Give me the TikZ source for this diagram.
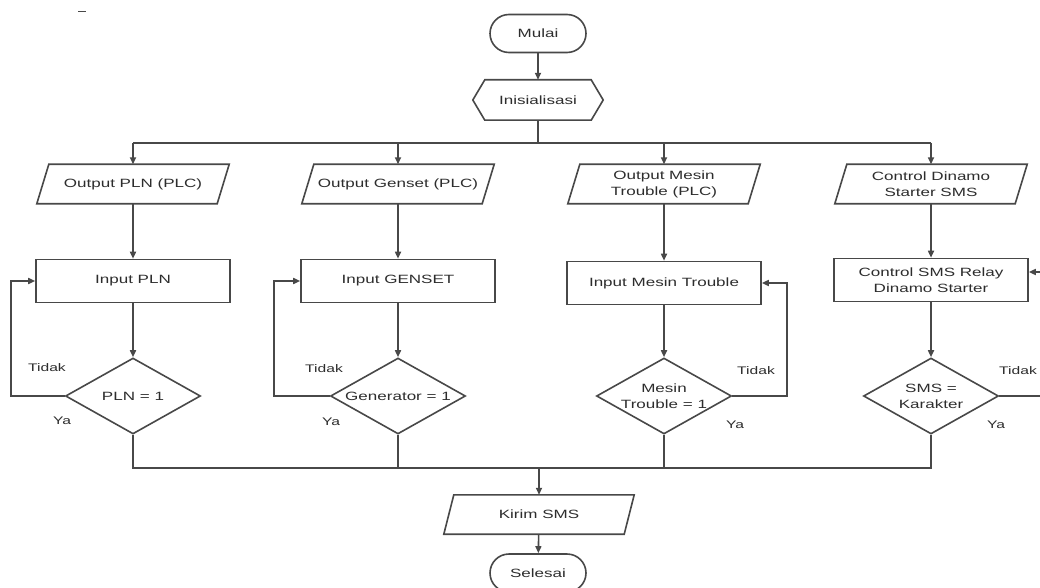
\documentclass[tikz,border=0pt]{standalone}
\usepackage{fontspec}
\setmainfont{Liberation Sans}[FakeStretch=1.42]
\usetikzlibrary{arrows.meta,shapes.geometric,calc}
\definecolor{ln}{RGB}{72,72,72}
\definecolor{tx}{RGB}{45,45,45}
\newcommand\slantbox[2]{\draw[line] ([xshift=#2]#1.north west) -- ([xshift=#2]#1.north east) -- ([xshift=-#2]#1.south east) -- ([xshift=-#2]#1.south west) -- cycle;}
\newcommand\hexbox[2]{\draw[line] (#1.west) -- ([xshift=#2]#1.north west) -- ([xshift=-#2]#1.north east) -- (#1.east) -- ([xshift=-#2]#1.south east) -- ([xshift=#2]#1.south west) -- cycle;}
\begin{document}
\begin{tikzpicture}[x=1pt,y=-1pt, font=\fontsize{12}{16}\selectfont, text=tx,
 line/.style={draw=ln, line width=1.6pt},
 arr/.style={line, -{Triangle[length=7pt,width=6pt]}},
 term/.style={line, rounded corners=19pt, minimum width=96pt, minimum height=38pt, inner sep=0pt},
 box/.style={line, minimum width=194pt, minimum height=43pt, align=center, inner sep=0pt},
 io/.style={minimum width=180pt, minimum height=39pt, align=center, inner sep=0pt},
 prep/.style={minimum width=130pt, minimum height=40pt, inner sep=0pt},
 dec/.style={line, diamond, minimum width=135pt, minimum height=76pt, inner sep=0pt},
 dtext/.style={align=center, inner sep=0pt},
 lbl/.style={font=\fontsize{11}{13}\selectfont, inner sep=0pt}]
\useasboundingbox (0,0) rectangle (1040,588);
\fill[white] (0,0) rectangle (1040,588);
\draw[line, line width=1pt] (78,12) -- (86,12);

% top
\node[term] (mulai) at (538,33.5) {Mulai};
\node[prep] (init) at (538,100) {Inisialisasi};
\hexbox{init}{12pt}
\coordinate (tb) at (538,143);

% output parallelograms
\node[io] (p1) at (133,184) {Output PLN (PLC)};
\node[io] (p2) at (398,184) {Output Genset (PLC)};
\node[io] (p3) at (664,184) {Output Mesin\\Trouble (PLC)};
\node[io] (p4) at (931,184) {Control Dinamo\\Starter SMS};
\slantbox{p1}{6pt}
\slantbox{p2}{6pt}
\slantbox{p3}{6pt}
\slantbox{p4}{6pt}

% process boxes
\node[box] (r1) at (133,281) {Input PLN};
\node[box] (r2) at (398,281) {Input GENSET};
\node[box] (r3) at (664,283) {Input Mesin Trouble};
\node[box] (r4) at (931,280) {Control SMS Relay\\Dinamo Starter};

% decisions
\node[dec] (d1) at (133,396) {};
\node[dec] (d2) at (398,396) {};
\node[dec] (d3) at (664,396) {};
\node[dec] (d4) at (931,396) {};
\node[dtext] (d1t) at (d1) {PLN = 1};
\node[dtext] (d2t) at (d2) {Generator = 1};
\node[dtext] (d3t) at (d3) {Mesin\\Trouble = 1};
\node[dtext] (d4t) at (d4) {SMS =\\Karakter};

% labels
\node[lbl] (t1) at (47,368) {Tidak};
\node[lbl] (y1) at (62,421) {Ya};
\node[lbl] (t2) at (324,369) {Tidak};
\node[lbl] (y2) at (331,422) {Ya};
\node[lbl] (t3) at (756,371) {Tidak};
\node[lbl] (y3) at (735,425) {Ya};
\node[lbl] (t4) at (1018,371) {Tidak};
\node[lbl] (y4) at (996,425) {Ya};

% bottom
\coordinate (bb) at (539,468);
\node[io] (kirim) at (539,514.5) {Kirim SMS};
\slantbox{kirim}{5pt}
\node[term] (selesai) at (538,573) {Selesai};

% connectors
\draw[arr] (mulai) -- (init);
\draw[line] (init.south) -- (tb);
\draw[line] (p1.north|-tb) -- (p4.north|-tb);
\foreach \p in {p1,p2,p3,p4} {\draw[arr] (\p.north|-tb) -- (\p.north);}
\draw[arr] (p1) -- (r1);
\draw[arr] (p2) -- (r2);
\draw[arr] (p3) -- (r3);
\draw[arr] (p4) -- (r4);
\draw[arr] (r1) -- (d1);
\draw[arr] (r2) -- (d2);
\draw[arr] (r3) -- (d3);
\draw[arr] (r4) -- (d4);
\draw[arr] (d1.west) -| ([xshift=-24pt]r1.west) -- (r1.west);
\draw[arr] (d2.west) -| ([xshift=-26pt]r2.west) -- (r2.west);
\draw[arr] (d3.east) -| ([xshift=25pt]r3.east) -- (r3.east);
\draw[arr] (d4.east) -| ([xshift=13pt,yshift=8pt]r4.east) -- ([yshift=8pt]r4.east);
\draw[line] (d1.south) -- (d1.south|-bb) -- (d4.south|-bb) -- (d4.south);
\draw[line] (d2.south) -- (d2.south|-bb);
\draw[line] (d3.south) -- (d3.south|-bb);
\draw[arr] (bb) -- (kirim);
\draw[arr] (kirim) -- (selesai);
\end{tikzpicture}
\end{document}
